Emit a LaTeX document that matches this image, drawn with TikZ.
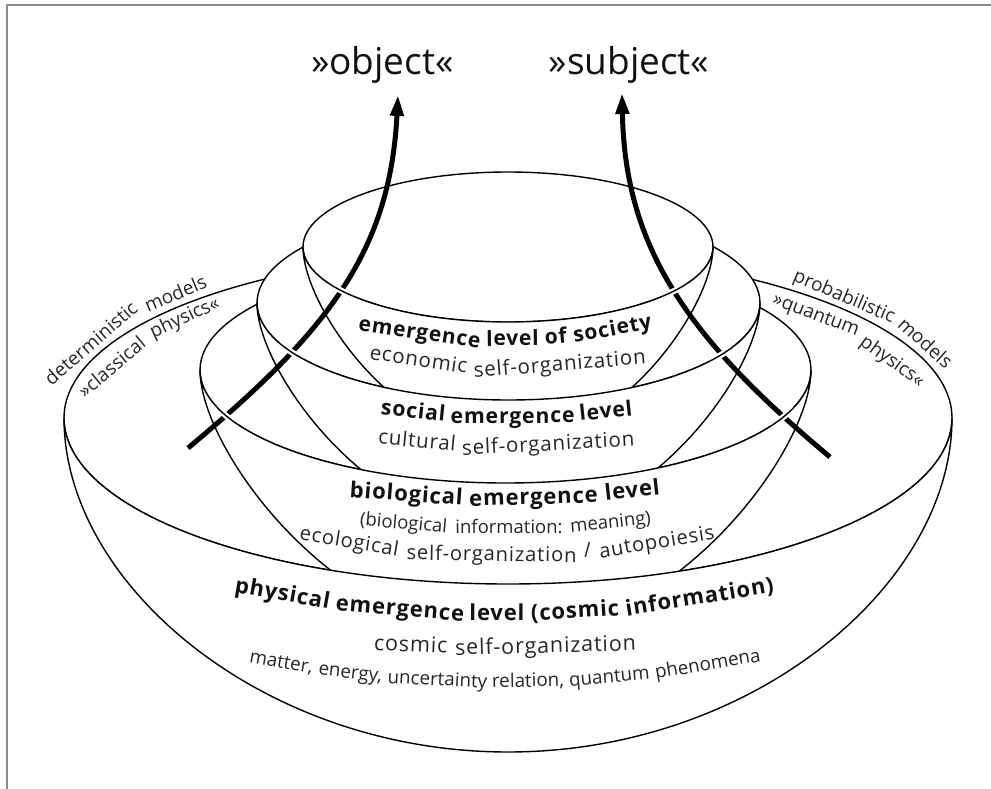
\documentclass[tikz,border=0pt]{standalone}
\usepackage{fontspec}
\setmainfont{Open Sans}
\newfontfamily\trackfamily[LetterSpace=4]{Open Sans}
\usetikzlibrary{arrows.meta}

\definecolor{ink}{HTML}{111111}
\definecolor{softink}{HTML}{262626}
\definecolor{framegray}{HTML}{8C8C8C}

\tikzset{
  outline/.style={draw=black, line width=1.4pt, fill=white, line join=round},
  edgeline/.style={draw=black, line width=1.4pt},
  halo/.style={draw=white, line width=6pt},
  upflow/.style={draw=black, line width=5pt, -{Triangle[length=21pt,width=13pt]}},
  bigword/.style={font=\fontsize{37}{37}\selectfont, text=ink, inner sep=0pt, anchor=base},
  word/.style={anchor=base, inner sep=0pt, sloped},
  tbold/.style={word, text=ink, font=\trackfamily\bfseries\fontsize{#1}{#1}\selectfont},
  treg/.style={word, text=softink, font=\trackfamily\fontsize{#1}{#1}\selectfont},
  preg/.style={word, text=softink, font=\fontsize{#1}{#1}\selectfont},
  rimword/.style={anchor=base, inner sep=0pt, text=softink, font=\fontsize{19}{19}\selectfont},
}

\begin{document}
\begin{tikzpicture}[x=1pt,y=1pt]
\useasboundingbox (0,0) rectangle (991,-789);

% page frame (left and top rules)
\draw[framegray, line width=2pt] (6.5,-789) -- (6.5,-5) -- (991,-5);

% rim centres of the four bowls
\coordinate (c1) at (508,-418);
\coordinate (c2) at (505.5,-370);
\coordinate (c3) at (508.5,-303);
\coordinate (c4) at (508,-247);

% rims, largest first
\path[outline] (c1) ellipse[x radius=444, y radius=166];
\path[outline] (c2) ellipse[x radius=305.5, y radius=113];
\path[outline] (c3) ellipse[x radius=251.5, y radius=97];
\path[outline] (c4) ellipse[x radius=205, y radius=75];

% outer walls, smallest first so each larger wall hides the bowl inside it
\path[outline] (303,-247) arc[start angle=180, end angle=360, x radius=205, y radius=75]
  .. controls (713,-305.5) and (620.75,-442) .. (508,-442)
  .. controls (395.25,-442) and (303,-305.5) .. cycle;
\path[outline] (257,-303) arc[start angle=180, end angle=360, x radius=251.5, y radius=97]
  .. controls (760,-370.8) and (646.8,-529) .. (508.5,-529)
  .. controls (370.2,-529) and (257,-370.8) .. cycle;
\path[outline] (200,-370) arc[start angle=180, end angle=360, x radius=305.5, y radius=113]
  .. controls (811,-450.1) and (673.5,-637) .. (505.5,-637)
  .. controls (337.5,-637) and (200,-450.1) .. cycle;
\path[outline] (64,-418) arc[start angle=180, end angle=360, x radius=444, y radius=166]
  .. controls (952,-585) and (752.2,-752) .. (508,-752)
  .. controls (263.8,-752) and (64,-585) .. cycle;

% level labels, word by word along gently curved baselines
\path (358,-327) .. controls (456,-352) and (555,-352) .. (653,-327)
  node[tbold=21, pos=0.206] (socA) {emergence}
  node[tbold=21, pos=0.524] (socB) {level}
  node[tbold=21, pos=0.672] (socC) {of}
  node[tbold=21, pos=0.866] (socD) {society};
\path (368,-357) .. controls (461,-378) and (554,-378) .. (647,-358)
  node[treg=20.5, pos=0.178] (ecoA) {economic}
  node[treg=20.5, pos=0.689] (ecoB) {self-organization};
\path (380,-414) .. controls (464,-426) and (549,-426) .. (633,-415)
  node[tbold=21.2, pos=0.129] (sclA) {social}
  node[tbold=21.2, pos=0.524] (sclB) {emergence}
  node[tbold=21.2, pos=0.895] (sclC) {level};
\path (377,-443) .. controls (463,-455) and (549,-455) .. (635,-442)
  node[treg=20.5, pos=0.153] (culA) {cultural}
  node[treg=20.5, pos=0.665] (culB) {self-organization};
\path (349,-496) .. controls (453,-508) and (557,-508) .. (661,-494)
  node[tbold=22, pos=0.182] (bioA) {biological}
  node[tbold=22, pos=0.592] (bioB) {emergence}
  node[tbold=22, pos=0.910] (bioC) {level};
\path (358,-524) .. controls (456,-537) and (555,-537) .. (653,-523)
  node[preg=18.5, pos=0.153] (infA) {(biological}
  node[preg=18.5, pos=0.512] (infB) {information:}
  node[preg=18.5, pos=0.858] (infC) {meaning)};
\path (297,-538) .. controls (437,-569) and (577,-569) .. (717,-537)
  node[treg=20.2, pos=0.122] (ecoLA) {ecological}
  node[treg=20.2, pos=0.463] (ecoLB) {self-organization}
  node[treg=20.2, pos=0.693] (ecoLC) {/}
  node[treg=20.2, pos=0.859] (ecoLD) {autopoiesis};
\path (233,-591) .. controls (414,-630) and (594,-630) .. (775,-590)
  node[tbold=22, pos=0.089] (phyA) {physical}
  node[tbold=22, pos=0.307] (phyB) {emergence}
  node[tbold=22, pos=0.487] (phyC) {level}
  node[tbold=22, pos=0.632] (phyD) {(cosmic}
  node[tbold=22, pos=0.863] (phyE) {information)};
\path (373,-650) .. controls (461,-655) and (549,-655) .. (637,-648)
  node[treg=21.5, pos=0.142] (cosA) {cosmic}
  node[treg=21.5, pos=0.654] (cosB) {self-organization};
\path (248,-662) .. controls (419,-696) and (591,-696) .. (762,-660)
  node[preg=18.8, pos=0.063] (matA) {matter,}
  node[preg=18.8, pos=0.198] (matB) {energy,}
  node[preg=18.8, pos=0.368] (matC) {uncertainty}
  node[preg=18.8, pos=0.545] (matD) {relation,}
  node[preg=18.8, pos=0.704] (matE) {quantum}
  node[preg=18.8, pos=0.896] (matF) {phenomena};

% labels following the outer rim
\node[rimword, rotate=41]   (detA) at (95.3,-348.2) {deterministic};
\node[rimword, rotate=23]   (detB) at (178.1,-300)  {models};
\node[rimword, rotate=40]   (clsA) at (116,-372)    {»classical};
\node[rimword, rotate=25]   (clsB) at (187,-323)    {physics«};
\node[rimword, rotate=-23]  (proA) at (842,-302)    {probabilistic};
\node[rimword, rotate=-42]  (proB) at (921,-348)    {models};
\node[rimword, rotate=-21]  (qntA) at (814,-320)    {»quantum};
\node[rimword, rotate=-36]  (qntB) at (889,-366)    {physics«};

% the two rising arrows
\node[bigword] (objWord) at (382.5,-75) {»object«};
\node[bigword] (subjWord) at (629,-75) {»subject«};
\coordinate (objFoot) at (188,-448);
\coordinate (objTip) at (398,-95);
\coordinate (subjFoot) at (830,-457);
\coordinate (subjTip) at (622,-93);
\draw[upflow] (objFoot) .. controls (330,-330) and (390,-250) .. (objTip);
\draw[upflow] (subjFoot) .. controls (690,-340) and (625,-250) .. (subjTip);

% front rim edges pass over the arrows
\begin{scope}
  \clip (227,-416) circle[radius=14] (291,-352) circle[radius=14]
        (339,-292) circle[radius=14] (782,-416) circle[radius=14]
        (722,-354) circle[radius=14] (675,-290) circle[radius=14];
  \foreach \sx/\sy/\ra/\rb in {200/-370/305.5/113, 257/-303/251.5/97, 303/-247/205/75} {
    \draw[halo] (\sx,\sy) arc[start angle=180, end angle=360, x radius=\ra, y radius=\rb];
    \draw[edgeline] (\sx,\sy) arc[start angle=180, end angle=360, x radius=\ra, y radius=\rb];
  }
\end{scope}
\end{tikzpicture}
\end{document}
